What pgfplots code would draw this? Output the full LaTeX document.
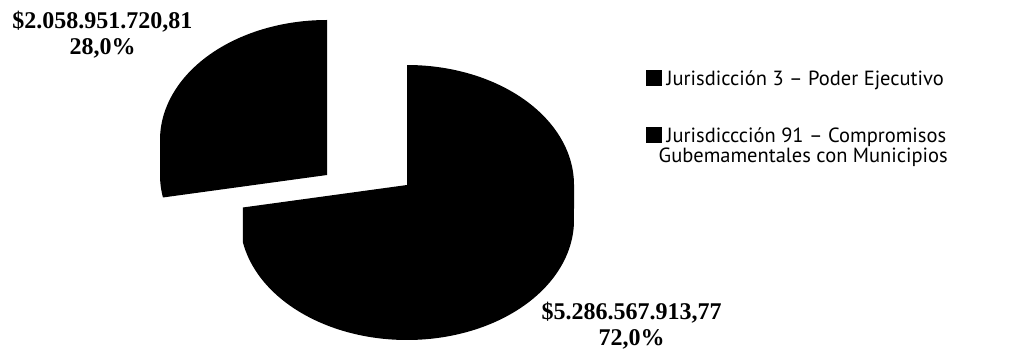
\documentclass[border=0pt]{standalone}
\usepackage{fontspec}
\setmainfont{Liberation Serif}
\newfontfamily\legfont{PT Sans}
\usepackage{pgfplots}
\pgfplotsset{compat=1.18}
% shares of the two jurisdictions (percent)
\def\shareBig{72.0}
\def\shareSmall{28.0}
% geometry of the tilted pie (in pixel-like axis units)
\def\rx{167}\def\ry{120}\def\dep{35}
\def\cxA{407}\def\cyA{166}   % main slice centre
\def\cxB{327}\def\cyB{211}   % exploded slice centre
\pgfmathsetmacro\aEnd{90+360*\shareSmall/100}
\pgfmathsetmacro\aStart{\aEnd-360}
\pgfmathsetmacro\mLx{\cxA+\rx*cos(\aEnd)}
\pgfmathsetmacro\mLy{\cyA+\ry*sin(\aEnd)}
\pgfmathsetmacro\sBy{\cyB-\dep}
\begin{document}
\begin{tikzpicture}
\begin{axis}[
  scale only axis, width=1014pt, height=351pt,
  xmin=0, xmax=1014, ymin=0, ymax=351,
  hide axis, clip=false, no markers,
  legend style={at={(axis cs:646,281)}, anchor=north west, draw=none, fill=none,
    font=\legfont\fontsize{20.5}{20}\selectfont, row sep=40pt, inner sep=0pt,
    cells={anchor=base west}, nodes={inner sep=0pt}},
  legend image code/.code={\fill[black] (0pt,0pt) rectangle (15.5pt,15.5pt);},
  legend style={column sep=5pt},
]
\path (rel axis cs:0,0) rectangle (rel axis cs:1,1);
% main slice (Jurisdiccion 3)
\addplot[fill=black, draw=none, domain=\aStart:90, samples=500, variable=\t]
  ({\cxA+\rx*cos(\t)}, {\cyA+\ry*sin(\t)-\dep*(\t<0)})
  -- (axis cs:\cxA,\cyA) -- (axis cs:\mLx,\mLy) -- cycle;
\addlegendentry{Jurisdicción 3 – Poder Ejecutivo}
% exploded slice (Jurisdiccion 91)
\addplot[fill=black, draw=none, domain=90:\aEnd, samples=300, variable=\t]
  ({\cxB+\rx*cos(\t)}, {\cyB+\ry*sin(\t)-\dep*(\t>180)})
  -- (axis cs:\cxB,\sBy) -- cycle;
\addlegendentry{\begin{tabular}[t]{@{}l@{}}Jurisdiccción 91 – Compromisos\\[-1pt]\hspace*{-8pt}Gubemamentales con Municipios\end{tabular}}
\tikzset{lab/.style={anchor=base, inner sep=0pt, font=\bfseries\fontsize{24}{26}\selectfont}}
\node[lab] at (axis cs:102.5,322) {\$2.058.951.720,81};
\node[lab] at (axis cs:102.5,296) {28,0\%};
\node[lab] at (axis cs:631.5,32) {\$5.286.567.913,77};
\node[lab] at (axis cs:631.5,6) {72,0\%};
\end{axis}
\end{tikzpicture}
\end{document}
